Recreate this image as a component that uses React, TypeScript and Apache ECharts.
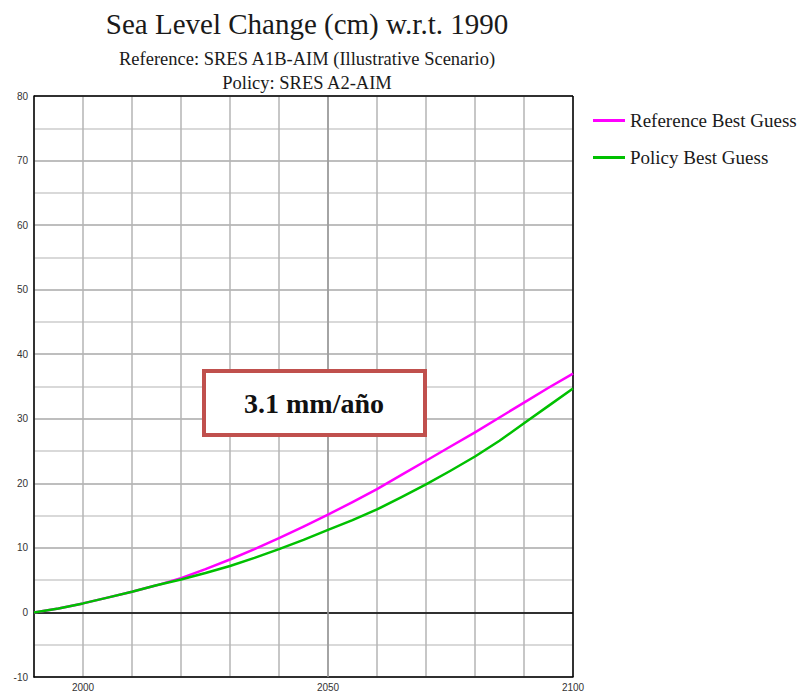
import React, { useEffect, useRef } from "react";
import * as echarts from "echarts";

const years = [1990, 1995, 2000, 2005, 2010, 2015, 2020, 2025, 2030, 2035, 2040, 2045, 2050, 2055, 2060, 2065, 2070, 2075, 2080, 2085, 2090, 2095, 2100];
const referenceBest = [0, 0.6, 1.4, 2.3, 3.2, 4.2, 5.3, 6.7, 8.2, 9.8, 11.5, 13.3, 15.15, 17.1, 19.1, 21.3, 23.5, 25.7, 27.9, 30.2, 32.5, 34.8, 37.0];
const policyBest = [0, 0.6, 1.4, 2.3, 3.2, 4.2, 5.1, 6.1, 7.2, 8.45, 9.8, 11.25, 12.8, 14.3, 15.95, 17.85, 19.85, 21.95, 24.15, 26.6, 29.3, 32.0, 34.7];
const xLabelYears = [2000, 2050, 2100];
const seriesNames = ["Reference Best Guess", "Policy Best Guess"];
const titleText = "Sea Level Change (cm) w.r.t. 1990";
const subtitleLines = ["Reference: SRES A1B-AIM (Illustrative Scenario)", "Policy: SRES A2-AIM"];
const annotationText = "3.1 mm/año";

export default function App() {
  const ref = useRef<HTMLDivElement>(null);
  useEffect(() => {
    if (!ref.current) return;
    const chart = echarts.init(ref.current, null, { renderer: "svg" });
    const serif = "'Liberation Serif', 'Times New Roman', serif";
    chart.setOption({
      animation: false,
      backgroundColor: "#ffffff",
      title: [
        {
          text: titleText,
          left: 302,
          top: 4,
          textAlign: "center",
          textStyle: { fontFamily: serif, fontSize: 29, fontWeight: "normal", color: "#1a1a1a" },
        },
        {
          text: subtitleLines[0],
          left: 302,
          top: 44,
          textAlign: "center",
          textStyle: { fontFamily: serif, fontSize: 18.5, fontWeight: "normal", color: "#1a1a1a" },
        },
        {
          text: subtitleLines[1],
          left: 302,
          top: 68,
          textAlign: "center",
          textStyle: { fontFamily: serif, fontSize: 18.5, fontWeight: "normal", color: "#1a1a1a" },
        },
      ],
      legend: {
        orient: "vertical",
        left: 588,
        top: 106,
        itemWidth: 32,
        itemHeight: 3,
        itemGap: 18,
        icon: "rect",
        textStyle: { fontFamily: serif, fontSize: 19, color: "#1a1a1a" },
        data: seriesNames,
      },
      grid: { left: 34, right: 224, top: 96, bottom: 14, containLabel: false, show: false },
      xAxis: {
        type: "value",
        min: 1990,
        max: 2100,
        interval: 10,
        axisLine: { show: true, onZero: false, lineStyle: { color: "#000", width: 1.5 } },
        axisTick: { show: false },
        axisLabel: {
          show: true,
          margin: 5,
          fontSize: 10,
          fontFamily: "'Liberation Sans', Arial, sans-serif",
          color: "#333",
          formatter: (v: number) => (xLabelYears.indexOf(v) >= 0 ? String(v) : ""),
        },
        splitLine: { show: true, lineStyle: { color: "#b4b4b4", width: 1.5 } },
      },
      yAxis: {
        type: "value",
        min: -10,
        max: 80,
        interval: 10,
        axisLine: { show: true, onZero: false, lineStyle: { color: "#000", width: 1.5 } },
        axisTick: { show: false },
        axisLabel: {
          margin: 6,
          fontSize: 10,
          fontFamily: "'Liberation Sans', Arial, sans-serif",
          color: "#333",
        },
        splitLine: { show: true, lineStyle: { color: "#a8a8a8", width: 1.5 } },
        minorTick: { show: false, splitNumber: 2 },
        minorSplitLine: { show: true, lineStyle: { color: "#cccccc", width: 1.5 } },
      },
      series: [
        {
          name: seriesNames[0],
          type: "line",
          data: years.map((y, i) => [y, referenceBest[i]]),
          showSymbol: false,
          smooth: false,
          lineStyle: { color: "#ff00ff", width: 2.5, join: "round" },
          itemStyle: { color: "#ff00ff" },
          z: 3,
          markLine: {
            silent: true,
            symbol: "none",
            label: { show: false },
            data: [
              { yAxis: 0, lineStyle: { color: "#000", width: 1.5, type: "solid" } },
              { xAxis: 2050, lineStyle: { color: "#999", width: 1.5, type: "solid" } },
              { yAxis: 80, lineStyle: { color: "#000", width: 1.5, type: "solid" } },
              { xAxis: 2100, lineStyle: { color: "#000", width: 1.5, type: "solid" } },
            ],
            z: 1,
          },
        },
        {
          name: seriesNames[1],
          type: "line",
          data: years.map((y, i) => [y, policyBest[i]]),
          showSymbol: false,
          smooth: false,
          lineStyle: { color: "#00c000", width: 2.5, join: "round" },
          itemStyle: { color: "#00c000" },
          z: 4,
        },
      ],
      graphic: [
        {
          type: "rect",
          shape: { x: 204, y: 371, width: 221, height: 64 },
          style: { fill: "#ffffff", stroke: "#c0504d", lineWidth: 4 },
          z: 10,
        },
        {
          type: "text",
          x: 314,
          y: 403,
          style: {
            text: annotationText,
            fontFamily: serif,
            fontSize: 28,
            fontWeight: "bold",
            fill: "#111",
            align: "center",
            verticalAlign: "middle",
          },
          z: 11,
        },
      ],
    });
    return () => chart.dispose();
  }, []);
  return <div ref={ref} style={{ width: 797, height: 692, position: "absolute", left: 0, top: 0 }} />;
}
